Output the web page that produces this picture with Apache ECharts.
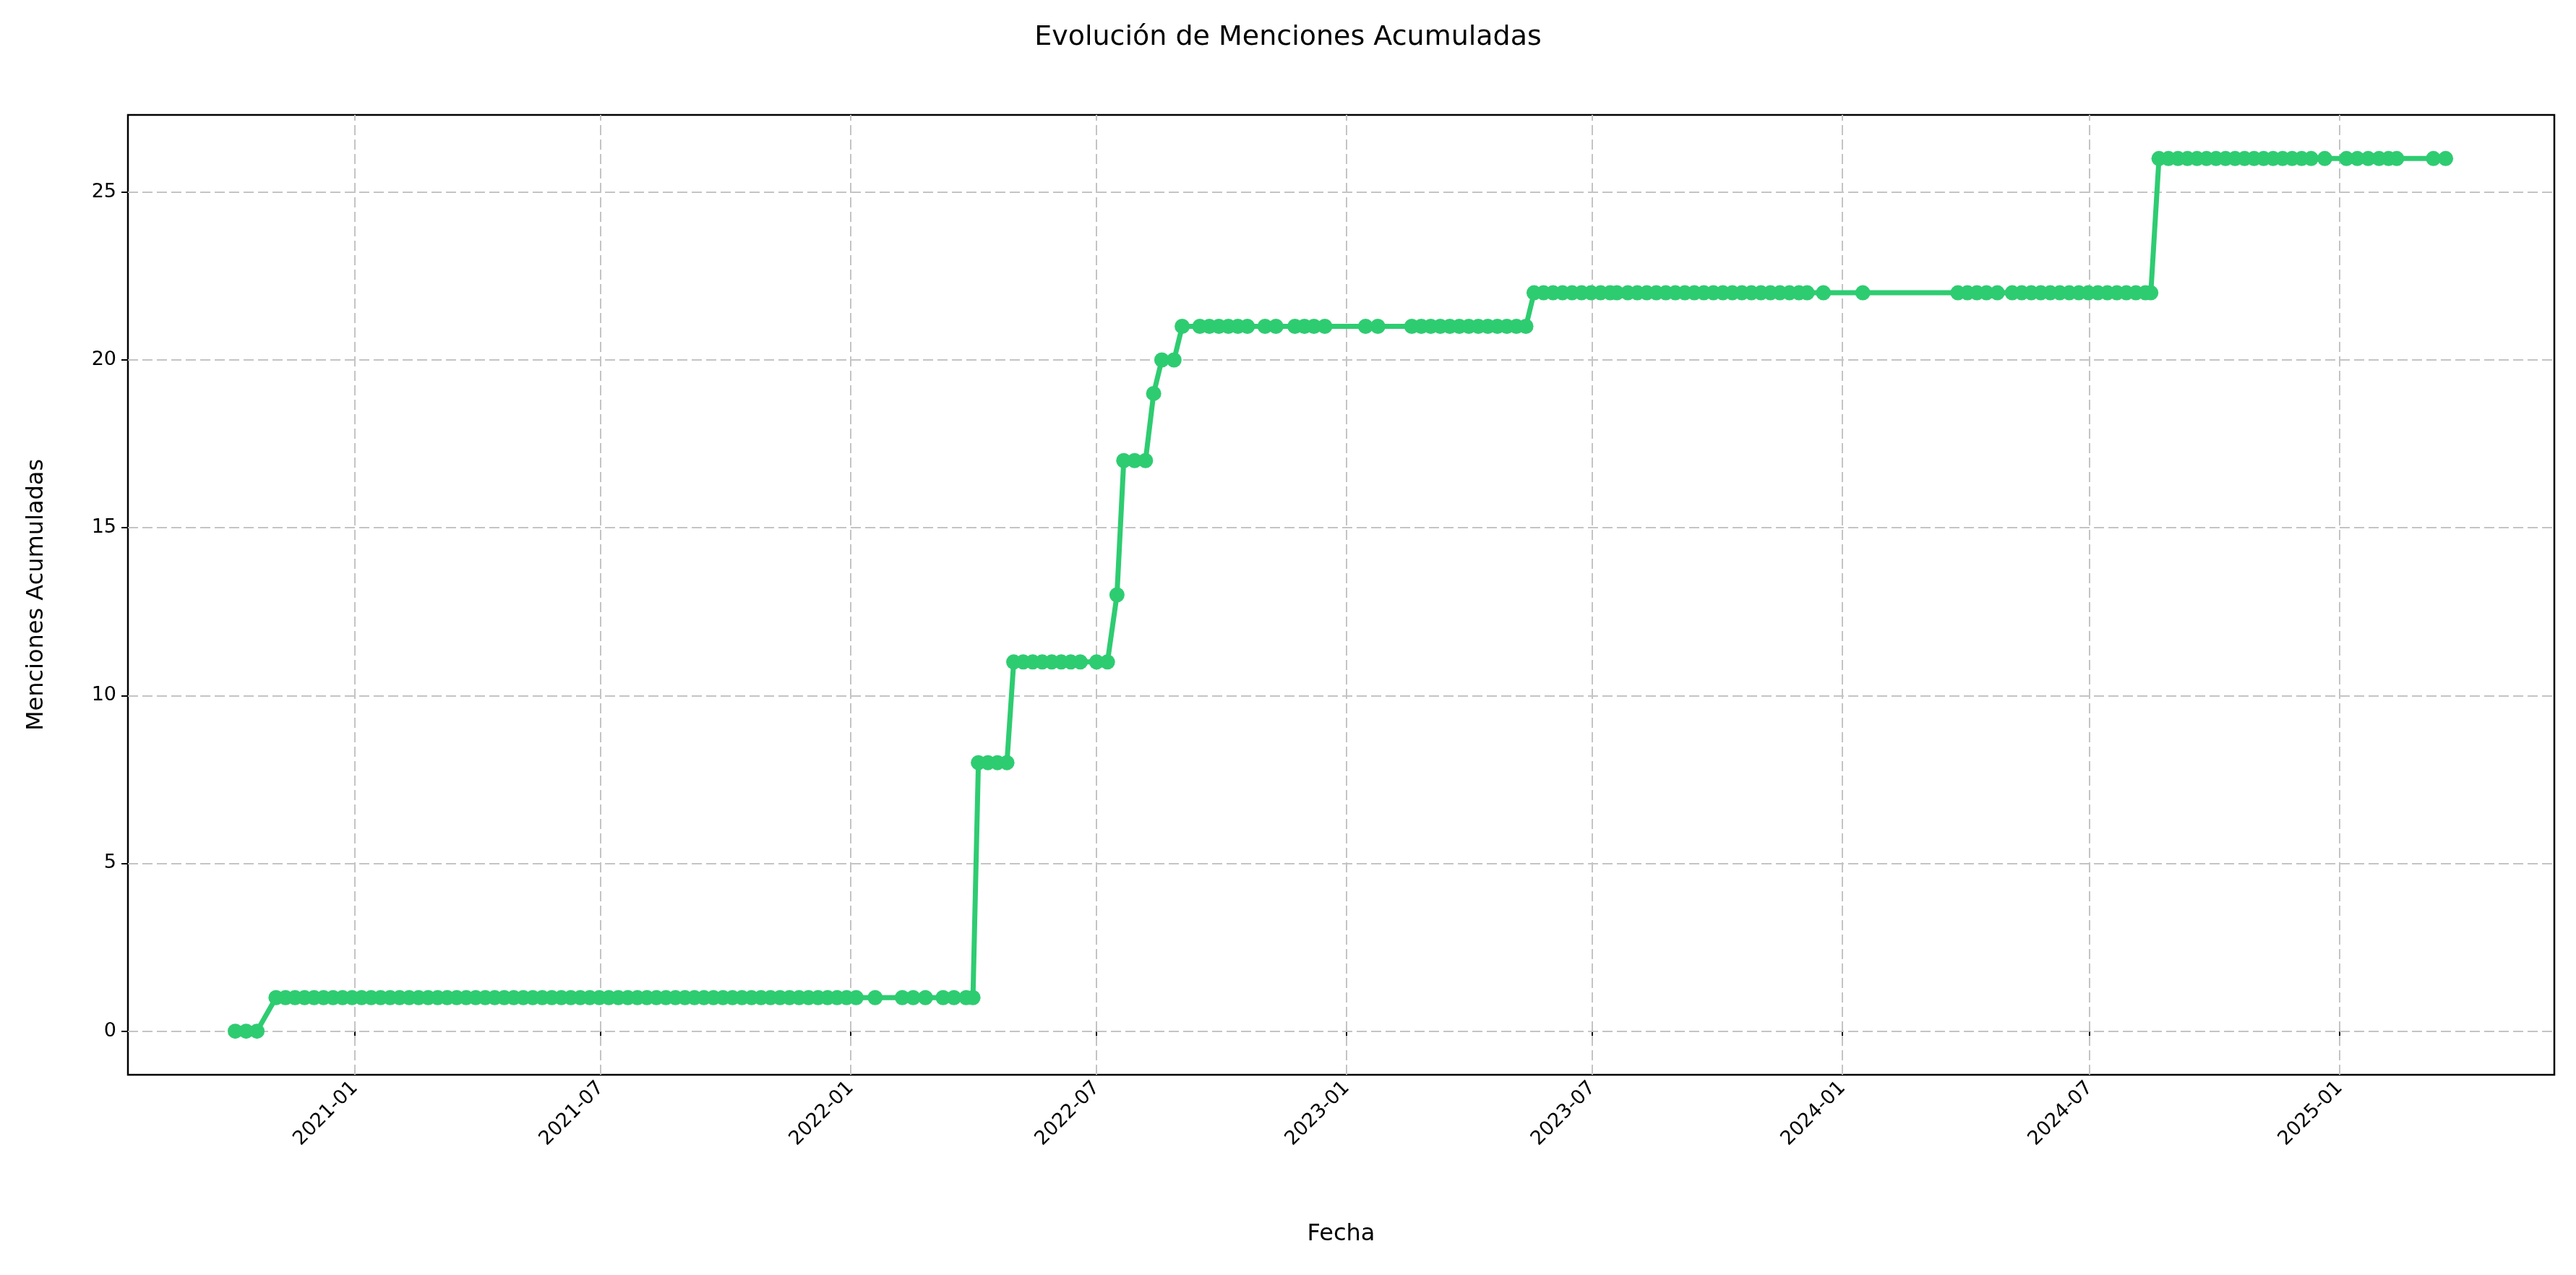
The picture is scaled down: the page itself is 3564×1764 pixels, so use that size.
<!DOCTYPE html>
<html>
<head>
<meta charset="utf-8">
<script src="https://cdn.jsdelivr.net/npm/echarts@6/dist/echarts.min.js"></script>
<style>html,body{margin:0;padding:0;background:#fff}#main{width:3564px;height:1764px}</style>
</head>
<body>
<div id="main"></div>
<script>
// fechas por nivel de menciones acumuladas
const fechas0 = ['2020-10-05', '2020-10-13', '2020-10-21']
const fechas1 = [
  '2020-11-04', '2020-11-11', '2020-11-18', '2020-11-25', '2020-12-02', '2020-12-09', '2020-12-16', '2020-12-23', '2020-12-30',
  '2021-01-06', '2021-01-13', '2021-01-20', '2021-01-27', '2021-02-03', '2021-02-10', '2021-02-17', '2021-02-24',
  '2021-03-03', '2021-03-10', '2021-03-17', '2021-03-24', '2021-03-31', '2021-04-07', '2021-04-14', '2021-04-21', '2021-04-28',
  '2021-05-05', '2021-05-12', '2021-05-19', '2021-05-26', '2021-06-02', '2021-06-09', '2021-06-16', '2021-06-23', '2021-06-30',
  '2021-07-07', '2021-07-14', '2021-07-21', '2021-07-28', '2021-08-04', '2021-08-11', '2021-08-18', '2021-08-25',
  '2021-09-01', '2021-09-08', '2021-09-15', '2021-09-22', '2021-09-29', '2021-10-06', '2021-10-13', '2021-10-20', '2021-10-27',
  '2021-11-03', '2021-11-10', '2021-11-17', '2021-11-24', '2021-12-01', '2021-12-08', '2021-12-15', '2021-12-22', '2021-12-29',
  '2022-01-05', '2022-01-19', '2022-02-08', '2022-02-16', '2022-02-25', '2022-03-10', '2022-03-18', '2022-03-27', '2022-04-01'
]
const fechas8 = ['2022-04-05', '2022-04-12', '2022-04-19', '2022-04-26']
const fechas11 = ['2022-05-01', '2022-05-08', '2022-05-15', '2022-05-22', '2022-05-29', '2022-06-05', '2022-06-12', '2022-06-19', '2022-07-01', '2022-07-09']
const fechas13 = ['2022-07-16']
const fechas17 = ['2022-07-21', '2022-07-29', '2022-08-06']
const fechas19 = ['2022-08-12']
const fechas20 = ['2022-08-18', '2022-08-27']
const fechas21 = [
  '2022-09-02', '2022-09-15', '2022-09-22', '2022-09-29', '2022-10-06', '2022-10-13', '2022-10-20',
  '2022-11-02', '2022-11-10', '2022-11-24', '2022-12-01', '2022-12-08', '2022-12-16', '2023-01-15', '2023-01-24',
  '2023-02-18', '2023-02-25', '2023-03-04', '2023-03-11', '2023-03-18', '2023-03-25', '2023-04-01', '2023-04-08',
  '2023-04-15', '2023-04-22', '2023-04-29', '2023-05-06', '2023-05-13'
]
const fechas22 = [
  '2023-05-19', '2023-05-26', '2023-06-02', '2023-06-09', '2023-06-16', '2023-06-23', '2023-06-30', '2023-07-07', '2023-07-14', '2023-07-19',
  '2023-07-27', '2023-08-03', '2023-08-10', '2023-08-17', '2023-08-24', '2023-08-31', '2023-09-07', '2023-09-14', '2023-09-21', '2023-09-28',
  '2023-10-05', '2023-10-12', '2023-10-19', '2023-10-26', '2023-11-02', '2023-11-09', '2023-11-16', '2023-11-23', '2023-11-30', '2023-12-06',
  '2023-12-18', '2024-01-16', '2024-03-26', '2024-04-02', '2024-04-09', '2024-04-16', '2024-04-24',
  '2024-05-05', '2024-05-12', '2024-05-19', '2024-05-26', '2024-06-02', '2024-06-09', '2024-06-16', '2024-06-23', '2024-06-30',
  '2024-07-07', '2024-07-14', '2024-07-21', '2024-07-28', '2024-08-04', '2024-08-11', '2024-08-15'
]
const fechas26 = [
  '2024-08-21', '2024-08-28', '2024-09-04', '2024-09-11', '2024-09-18', '2024-09-25', '2024-10-02', '2024-10-09', '2024-10-16',
  '2024-10-23', '2024-10-30', '2024-11-06', '2024-11-13', '2024-11-20', '2024-11-27', '2024-12-04', '2024-12-11', '2024-12-21',
  '2025-01-06', '2025-01-14', '2025-01-22', '2025-01-30', '2025-02-06', '2025-02-12', '2025-03-11', '2025-03-20'
]
const niveles = [0, 1, 8, 11, 13, 17, 19, 20, 21, 22, 26]
const grupos = [fechas0, fechas1, fechas8, fechas11, fechas13, fechas17, fechas19, fechas20, fechas21, fechas22, fechas26]

const ticksX = ['2021-01-01', '2021-07-01', '2022-01-01', '2022-07-01', '2023-01-01', '2023-07-01', '2024-01-01', '2024-07-01', '2025-01-01']
const ticksY = [0, 5, 10, 15, 20, 25]

const ms = f => Date.parse(f + 'T00:00:00Z')
const data = []
grupos.forEach((fechas, i) => {
  fechas.forEach(f => data.push([ms(f), niveles[i]]))
})

const ticksXms = ticksX.map(ms)
const gridStyle = { color: '#c4c4c4', type: [14, 6], width: 2 }

function fmtFecha(v) {
  const d = new Date(v)
  return d.getUTCFullYear() + '-' + String(d.getUTCMonth() + 1).padStart(2, '0')
}

const myChart = echarts.init(document.getElementById('main'))
myChart.setOption({
  animation: false,
  backgroundColor: '#fff',
  textStyle: { fontFamily: 'DejaVu Sans' },
  title: {
    text: 'Evolución de Menciones Acumuladas',
    left: 'center',
    top: 28,
    textStyle: { fontSize: 38, fontWeight: 'normal', color: '#000' }
  },
  grid: {
    left: 177, right: 30, top: 159, bottom: 277,
    show: true, borderColor: '#000', borderWidth: 2.5, containLabel: false
  },
  xAxis: {
    type: 'value',
    min: ms('2020-07-18'),
    max: ms('2025-06-08'),
    name: 'Fecha',
    nameLocation: 'middle',
    nameGap: 205,
    nameTextStyle: { fontSize: 32, color: '#000' },
    axisLine: { show: false },
    axisTick: { show: true, customValues: ticksXms, length: 9, lineStyle: { color: '#000', width: 2 } },
    axisLabel: { customValues: ticksXms, rotate: 45, fontSize: 27, color: '#000', margin: 14, formatter: fmtFecha },
    splitLine: { show: false }
  },
  yAxis: {
    type: 'value',
    min: -1.3,
    max: 27.3,
    name: 'Menciones Acumuladas',
    nameLocation: 'middle',
    nameGap: 110,
    nameTextStyle: { fontSize: 32, color: '#000' },
    axisLine: { show: false },
    axisTick: { show: true, customValues: ticksY, length: 9, lineStyle: { color: '#000', width: 2 } },
    axisLabel: { customValues: ticksY, fontSize: 27, color: '#000', margin: 16 },
    splitLine: { show: false }
  },
  series: [{
    type: 'line',
    data,
    symbol: 'circle',
    symbolSize: 21,
    showAllSymbol: true,
    lineStyle: { color: '#2ecc71', width: 7 },
    itemStyle: { color: '#2ecc71' },
    z: 3,
    markLine: {
      silent: true,
      symbol: 'none',
      label: { show: false },
      lineStyle: gridStyle,
      z: 1,
      data: ticksXms.map(t => ({ xAxis: t })).concat(ticksY.map(v => ({ yAxis: v })))
    }
  }]
})
</script>
</body>
</html>
